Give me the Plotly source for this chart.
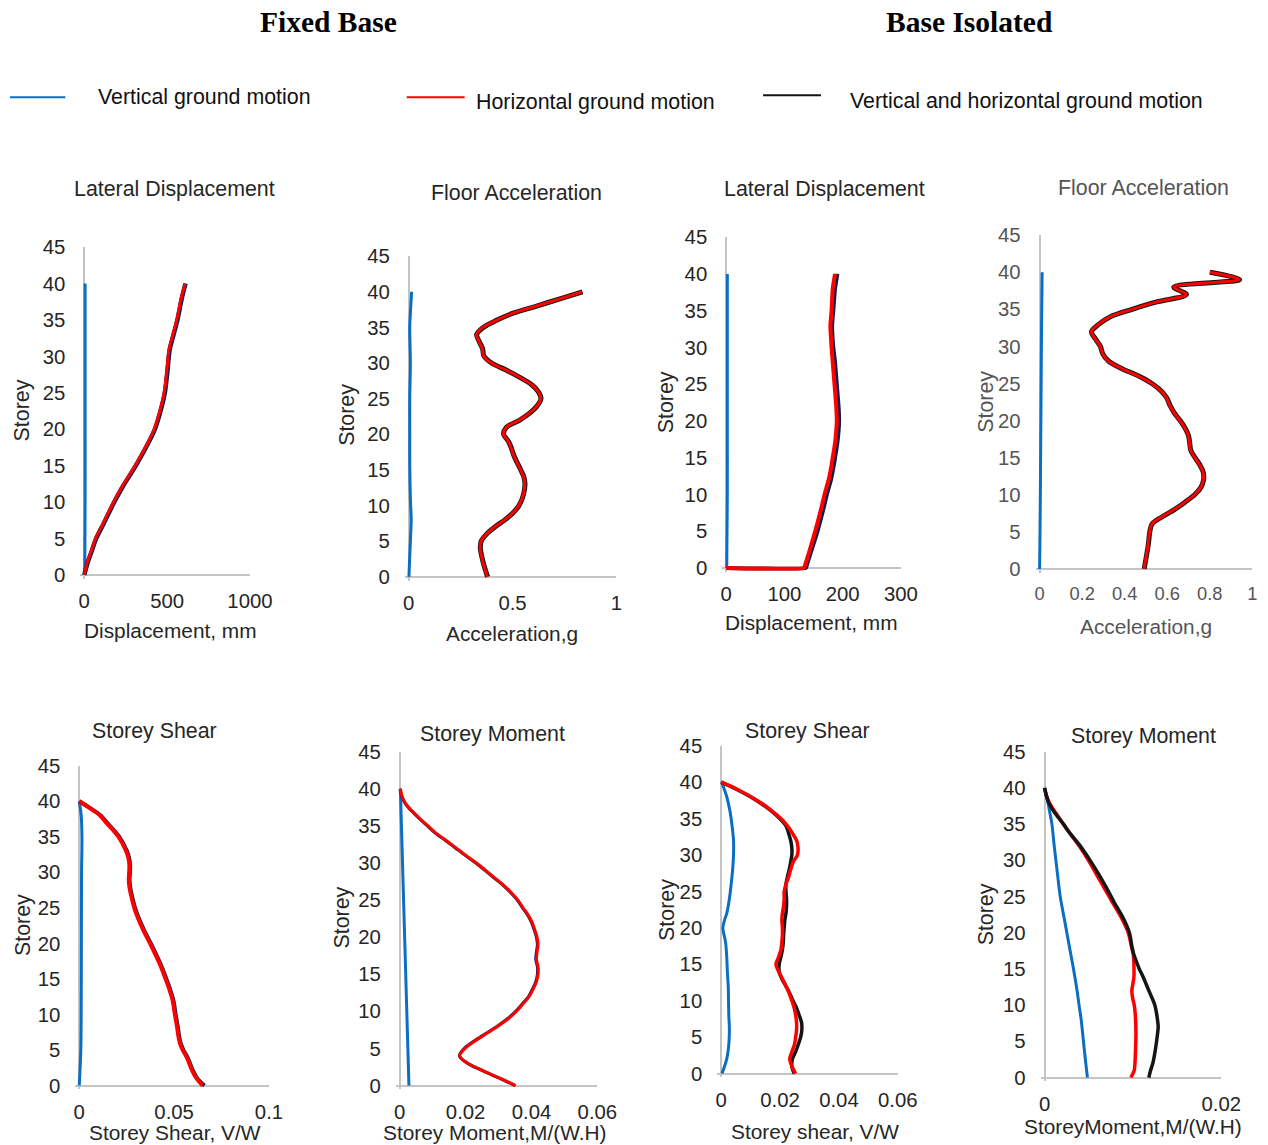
import plotly.graph_objects as go

W, H = 1268, 1145

# ======================= DATA =======================
# ---- Fixed base : lateral displacement (mm) ----
fb_disp_storey = [0, 1, 2, 3, 5, 7, 10, 12, 15, 18, 20, 23, 25, 28, 30, 31, 33, 35, 38, 40]
fb_disp_h = [0, 10, 22, 38, 68, 112, 177, 225, 307, 380, 422, 462, 482, 498, 506, 512, 535, 558, 585, 608]
fb_disp_vh = [0, 12, 25, 41, 72, 116, 181, 229, 311, 384, 426, 466, 486, 502, 510, 516, 539, 562, 589, 611]
fb_disp_v_storey = [0, 10, 20, 30, 40]
fb_disp_v = [3, 5, 5, 5, 5]

# ---- Fixed base : floor acceleration (g) ----
fb_acc_storey = [0, 1, 2, 3, 4, 5, 6, 7, 8, 9, 10, 11, 12, 13, 14, 15, 16, 17, 18, 19, 20,
                 21, 22, 23, 24, 25, 26, 27, 28, 29, 30, 31, 32, 33, 34, 35, 36, 37, 38, 39, 40]
fb_acc_h = [0.379, 0.368, 0.358, 0.350, 0.344, 0.348, 0.374, 0.414, 0.462, 0.502, 0.530, 0.546,
            0.555, 0.559, 0.554, 0.539, 0.522, 0.506, 0.494, 0.480, 0.456, 0.470, 0.534, 0.583,
            0.618, 0.636, 0.623, 0.590, 0.534, 0.470, 0.398, 0.361, 0.355, 0.339, 0.326, 0.358,
            0.422, 0.502, 0.615, 0.727, 0.836]
fb_acc_vh = [0.380, 0.369, 0.359, 0.351, 0.345, 0.349, 0.375, 0.415, 0.463, 0.503, 0.531, 0.547,
             0.556, 0.560, 0.555, 0.540, 0.523, 0.507, 0.495, 0.481, 0.457, 0.471, 0.535, 0.584,
             0.619, 0.637, 0.624, 0.591, 0.535, 0.471, 0.399, 0.362, 0.356, 0.340, 0.327, 0.359,
             0.423, 0.503, 0.616, 0.728, 0.837]
fb_acc_v_storey = [0, 5, 8, 11, 16, 20, 25, 30, 35, 37, 40]
fb_acc_v = [0.001, 0.008, 0.012, 0.008, 0.005, 0.005, 0.005, 0.008, 0.005, 0.008, 0.014]

# ---- Base isolated : lateral displacement (mm) ----
bi_disp_storey = [0, 0, 0.5, 2, 5, 8, 10, 12, 14, 15, 17, 20, 22, 25, 28, 30, 33, 35, 38, 40]
bi_disp_h = [0, 134, 136, 142, 153, 163, 169, 176, 181, 183, 187, 190, 189, 186, 183, 181, 179, 181, 183, 187]
bi_disp_vh = [0, 137, 139, 145, 157, 167, 173, 180, 185, 187, 191, 194, 193, 190, 187, 184, 182, 184, 187, 191]
bi_disp_v_storey = [0, 10, 20, 30, 40]
bi_disp_v = [1, 2, 2, 2, 2]

# ---- Base isolated : floor acceleration (g) ----
bi_acc_storey = [0, 3, 6, 7, 8, 9, 10, 11, 12, 13, 14, 15, 16, 17, 18, 19, 20, 21, 22, 23, 24,
                 25, 26, 27, 28, 29, 30, 31, 32, 33, 34, 35, 36, 37, 38, 39, 40]
bi_acc_h = [0.491, 0.509, 0.527, 0.574, 0.633, 0.683, 0.728, 0.758, 0.770, 0.769, 0.753, 0.730,
            0.710, 0.705, 0.699, 0.683, 0.660, 0.633, 0.613, 0.598, 0.571, 0.527, 0.465, 0.387,
            0.324, 0.296, 0.285, 0.262, 0.243, 0.278, 0.332, 0.434, 0.550, 0.690, 0.630, 0.940, 0.800]
bi_acc_vh = [0.492, 0.510, 0.528, 0.575, 0.634, 0.684, 0.729, 0.759, 0.771, 0.770, 0.754, 0.731,
             0.711, 0.706, 0.700, 0.684, 0.661, 0.634, 0.614, 0.599, 0.572, 0.528, 0.466, 0.388,
             0.325, 0.297, 0.286, 0.263, 0.244, 0.279, 0.333, 0.435, 0.551, 0.691, 0.631, 0.941, 0.801]
bi_acc_v_storey = [0, 5, 12, 20, 28, 35, 40]
bi_acc_v = [0.0, 0.002, 0.004, 0.006, 0.008, 0.010, 0.012]

# ---- Fixed base : storey shear (V/W) ----
fb_shear_storey = [0, 1, 2, 4, 5, 6, 7, 8, 10, 12, 14, 15, 17, 20, 22, 24, 25, 27, 28, 29, 30,
                   31, 32, 33, 35, 37, 38, 39, 40]
fb_shear_h = [0.0650, 0.0618, 0.0597, 0.0566, 0.0545, 0.0530, 0.0522, 0.0517, 0.0504, 0.0492,
              0.0469, 0.0455, 0.0426, 0.0373, 0.0335, 0.0303, 0.0290, 0.0271, 0.0264, 0.0261,
              0.0263, 0.0264, 0.0259, 0.0247, 0.0207, 0.0142, 0.0110, 0.0058, 0.0]
fb_shear_vh = [0.0660, 0.0622, 0.0601, 0.0570, 0.0549, 0.0534, 0.0526, 0.0521, 0.0508, 0.0496,
               0.0473, 0.0459, 0.0430, 0.0377, 0.0339, 0.0307, 0.0294, 0.0275, 0.0268, 0.0265,
               0.0267, 0.0268, 0.0263, 0.0251, 0.0211, 0.0146, 0.0113, 0.0060, 0.0]
fb_shear_v_storey = [0, 5, 10, 20, 30, 35, 38, 40]
fb_shear_v = [0.0, 0.0008, 0.0010, 0.0011, 0.0012, 0.0014, 0.0010, 0.0]

# ---- Fixed base : storey moment M/(W.H) ----
fb_mom_storey = [0, 1, 2, 3, 4, 5, 6, 7, 8, 9, 10, 11, 12, 13, 14, 15, 16, 17, 18, 19, 20,
                 21, 22, 23, 24, 25, 26, 27, 28, 29, 30, 31, 32, 33, 34, 35, 36, 37, 38, 39, 40]
fb_mom_h = [0.0352, 0.0304, 0.0253, 0.0207, 0.0182, 0.0198, 0.0228, 0.0263, 0.0298, 0.0329,
            0.0354, 0.0374, 0.0393, 0.0405, 0.0415, 0.0420, 0.0420, 0.0415, 0.0417, 0.0420,
            0.0417, 0.0410, 0.0402, 0.0390, 0.0374, 0.0359, 0.0339, 0.0316, 0.0288, 0.0261,
            0.0233, 0.0202, 0.0172, 0.0142, 0.0111, 0.0086, 0.0061, 0.0038, 0.0018, 0.0007, 0.0002]
fb_mom_vh = [0.0350, 0.0302, 0.0251, 0.0205, 0.0181, 0.0196, 0.0226, 0.0261, 0.0296, 0.0327,
             0.0352, 0.0372, 0.0391, 0.0403, 0.0413, 0.0418, 0.0418, 0.0413, 0.0415, 0.0418,
             0.0415, 0.0408, 0.0400, 0.0388, 0.0372, 0.0357, 0.0337, 0.0314, 0.0286, 0.0259,
             0.0231, 0.0200, 0.0170, 0.0140, 0.0109, 0.0084, 0.0059, 0.0036, 0.0017, 0.0006, 0.0001]
fb_mom_v_storey = [0, 20, 40]
fb_mom_v = [0.0028, 0.0015, 0.0002]

# ---- Base isolated : storey shear (V/W) ----
bi_shear_storey = fb_mom_storey
bi_shear_h = [0.0253, 0.0240, 0.0233, 0.0240, 0.0249, 0.0253, 0.0256, 0.0256, 0.0253, 0.0248,
              0.0240, 0.0231, 0.0220, 0.0208, 0.0195, 0.0186, 0.0195, 0.0203, 0.0206, 0.0208,
              0.0208, 0.0206, 0.0208, 0.0212, 0.0214, 0.0214, 0.0220, 0.0229, 0.0236, 0.0244,
              0.0259, 0.0261, 0.0256, 0.0242, 0.0225, 0.0203, 0.0174, 0.0141, 0.0101, 0.0056, 0.0]
bi_shear_vh = [0.0248, 0.0240, 0.0242, 0.0253, 0.0262, 0.0270, 0.0274, 0.0273, 0.0265, 0.0256,
               0.0244, 0.0233, 0.0220, 0.0206, 0.0197, 0.0197, 0.0203, 0.0208, 0.0211, 0.0212,
               0.0214, 0.0216, 0.0220, 0.0222, 0.0222, 0.0220, 0.0220, 0.0225, 0.0231, 0.0236,
               0.0240, 0.0240, 0.0236, 0.0229, 0.0220, 0.0199, 0.0172, 0.0138, 0.0099, 0.0053, 0.0]
bi_shear_v_storey = [0, 2, 4, 6, 8, 10, 12, 14, 16, 18, 20, 21, 22, 24, 26, 28, 30, 32, 34, 36, 38, 40]
bi_shear_v = [0.0003, 0.0019, 0.0026, 0.0028, 0.0026, 0.0025, 0.0024, 0.0021, 0.0019, 0.0015,
              0.0006, 0.0011, 0.0019, 0.0028, 0.0034, 0.0039, 0.0042, 0.0042, 0.0037, 0.0030,
              0.0019, 0.0002]

# ---- Base isolated : storey moment M/(W.H) ----
bi_mom_v_storey = [0, 2, 5, 8, 10, 12, 15, 18, 20, 22, 25, 28, 30, 32, 35, 37, 38, 39, 40]
bi_mom_v = [0.00485, 0.00466, 0.00440, 0.00414, 0.00390, 0.00368, 0.00327, 0.00282, 0.00252,
            0.00222, 0.00177, 0.00147, 0.00128, 0.00109, 0.00083, 0.00053, 0.00038, 0.00019, 0.0]
bi_mom_h_storey = [0, 1, 2, 4, 6, 8, 10, 11, 12, 13, 14, 15, 16, 17, 18, 20, 22, 24, 26, 28,
                   30, 32, 34, 35, 36, 37, 38, 39, 40]
bi_mom_h = [0.00977, 0.01015, 0.01023, 0.01030, 0.01034, 0.01030, 0.01015, 0.00996, 0.00988,
            0.01000, 0.01012, 0.01012, 0.01010, 0.01004, 0.00985, 0.00947, 0.00872, 0.00778,
            0.00684, 0.00590, 0.00496, 0.00391, 0.00271, 0.00214, 0.00158, 0.00102, 0.00053,
            0.00019, 0.0]
bi_mom_vh_storey = [0, 1, 2, 4, 6, 7, 8, 10, 12, 14, 15, 16, 17, 18, 20, 22, 24, 26, 28, 30,
                    32, 34, 35, 36, 37, 38, 39, 40]
bi_mom_vh = [0.01180, 0.01200, 0.01226, 0.01256, 0.01278, 0.01286, 0.01278, 0.01248, 0.01180,
             0.01112, 0.01072, 0.01040, 0.01010, 0.00990, 0.00960, 0.00891, 0.00797, 0.00710,
             0.00617, 0.00515, 0.00402, 0.00271, 0.00214, 0.00150, 0.00090, 0.00045, 0.00019, 0.0]

# ---- text / ticks ----
storey_ticks = [0, 5, 10, 15, 20, 25, 30, 35, 40, 45]
legend_names = ["Vertical ground motion", "Horizontal ground motion",
                "Vertical and horizontal ground motion"]
headers = ["Fixed Base", "Base Isolated"]

# ======================= STYLE / LAYOUT =======================
BLUE, RED, BLACK, NAVY = "#0A6EC2", "#FF0000", "#151515", "#0B1D51"
FONT = "Liberation Sans, Arial, sans-serif"
TXT = "#262626"
AXC = "#C4C4C4"
PAD = 4

# calibration of the capture (page -> picture): picture = O + S * page
OX, SX, OY, SY = 9.6, 0.982, 18.7, 0.985
FS = 1 / 0.983


def PX(r):
    return (r - OX) / SX


def PY(r):
    return (r - OY) / SY


def fx(r):
    return max(0.0, PX(r)) / W


def fy(r):
    return 1 - PY(r) / H


panels = [
    dict(title="Lateral Displacement", xt="Displacement, mm",
         v=(fb_disp_v_storey, fb_disp_v), h=(fb_disp_storey, fb_disp_h), vh=(fb_disp_storey, fb_disp_vh),
         xmax=1000, xticks=[0, 500, 1000], xlab=["0", "500", "1000"],
         px=(84, 250, 575, 247), dark=NAVY, red_top=True, vhw=4.5, hw=3,
         tpos=(174, 189), xtpos=(170, 631), ytpos=(22, 410)),
    dict(title="Floor Acceleration", xt="Acceleration,g",
         v=(fb_acc_v_storey, fb_acc_v), h=(fb_acc_storey, fb_acc_h), vh=(fb_acc_storey, fb_acc_vh),
         xmax=1, xticks=[0, 0.5, 1], xlab=["0", "0.5", "1"],
         px=(409, 617, 577, 256), dark=BLACK, red_top=True, vhw=5, hw=3,
         tpos=(517, 193), xtpos=(512, 634), ytpos=(347, 415)),
    dict(title="Lateral Displacement", xt="Displacement, mm",
         v=(bi_disp_v_storey, bi_disp_v), h=(bi_disp_storey, bi_disp_h), vh=(bi_disp_storey, bi_disp_vh),
         xmax=300, xticks=[0, 100, 200, 300], xlab=["0", "100", "200", "300"],
         px=(727, 902, 568, 237), dark=NAVY, red_top=True, vhw=4, hw=4, smooth=0.35,
         tpos=(826, 189), xtpos=(813, 623), ytpos=(667, 402)),
    dict(title="Floor Acceleration", xt="Acceleration,g",
         v=(bi_acc_v_storey, bi_acc_v), h=(bi_acc_storey, bi_acc_h), vh=(bi_acc_storey, bi_acc_vh),
         xmax=1, xticks=[0, 0.2, 0.4, 0.6, 0.8, 1], xlab=["0", "0.2", "0.4", "0.6", "0.8", "1"],
         px=(1041, 1254, 569, 235), dark=BLACK, red_top=True, vhw=5, hw=3, txt="#555555", xfs=18,
         tpos=(1145, 188), xtpos=(1148, 627), ytpos=(987, 402)),
    dict(title="Storey Shear", xt="Storey Shear, V/W",
         v=(fb_shear_v_storey, fb_shear_v), h=(fb_shear_storey, fb_shear_h), vh=(fb_shear_storey, fb_shear_vh),
         xmax=0.1, xticks=[0, 0.05, 0.1], xlab=["0", "0.05", "0.1"],
         px=(79, 269, 1086, 766), dark=NAVY, red_top=True, vhw=4, hw=4,
         tpos=(154, 731), xtpos=(175, 1133), ytpos=(22, 925)),
    dict(title="Storey Moment", xt="Storey Moment,M/(W.H)",
         v=(fb_mom_v_storey, fb_mom_v), h=(fb_mom_storey, fb_mom_h), vh=(fb_mom_storey, fb_mom_vh),
         xmax=0.06, xticks=[0, 0.02, 0.04, 0.06], xlab=["0", "0.02", "0.04", "0.06"],
         px=(400, 598, 1086, 752), dark=NAVY, red_top=True, vhw=3, hw=3,
         tpos=(493, 734), xtpos=(495, 1133), ytpos=(342, 918)),
    dict(title="Storey Shear", xt="Storey shear, V/W",
         v=(bi_shear_v_storey, bi_shear_v), h=(bi_shear_storey, bi_shear_h), vh=(bi_shear_storey, bi_shear_vh),
         xmax=0.06, xticks=[0, 0.02, 0.04, 0.06], xlab=["0", "0.02", "0.04", "0.06"],
         px=(722, 899, 1074, 746), dark=BLACK, red_top=True, vhw=3.5, hw=3.5,
         tpos=(808, 731), xtpos=(816, 1132), ytpos=(667, 910)),
    dict(title="Storey Moment", xt="StoreyMoment,M/(W.H)",
         v=(bi_mom_v_storey, bi_mom_v), h=(bi_mom_h_storey, bi_mom_h), vh=(bi_mom_vh_storey, bi_mom_vh),
         xmax=0.02, xticks=[0, 0.02], xlab=["0", "0.02"],
         px=(1046, 1223, 1078, 752), dark=BLACK, red_top=False, vhw=3.5, hw=3.5,
         tpos=(1145, 736), xtpos=(1135, 1127), ytpos=(987, 915)),
]

fig = go.Figure()
annotations = []
layout_axes = {}

for i, p in enumerate(panels, start=1):
    X0, X1, Y0, Y45 = p["px"]
    x0f, x1f, y0f, y45f = PX(X0), PX(X1), PY(Y0), PY(Y45)
    xs = "x" if i == 1 else f"x{i}"
    ys = "y" if i == 1 else f"y{i}"
    txt = p.get("txt", TXT)
    sm = p.get("smooth", 0.9)
    xmin = -PAD * p["xmax"] / (x1f - x0f)
    ymin = -PAD * 45 / (y0f - y45f)

    def add(series, color, width, name):
        st, val = series
        fig.add_trace(go.Scatter(x=val, y=st, mode="lines", name=name, xaxis=xs, yaxis=ys,
                                 line=dict(color=color, width=width, shape="spline", smoothing=sm),
                                 showlegend=False))

    add(p["v"], BLUE, 3, legend_names[0])
    if p["red_top"]:
        add(p["vh"], p["dark"], p["vhw"], legend_names[2])
        add(p["h"], RED, p["hw"], legend_names[1])
    else:
        add(p["h"], RED, p["hw"], legend_names[1])
        add(p["vh"], p["dark"], p["vhw"], legend_names[2])

    layout_axes["xaxis" if i == 1 else f"xaxis{i}"] = dict(
        domain=[(x0f - PAD) / W, x1f / W], range=[xmin, p["xmax"]], anchor=ys,
        showgrid=False, showline=False, zeroline=True, zerolinecolor=AXC, zerolinewidth=2,
        tickmode="array", tickvals=p["xticks"], ticktext=p["xlab"], ticks="",
        ticklabelstandoff=8,
        tickfont=dict(family=FONT, size=p.get("xfs", 20) * FS, color=txt), fixedrange=True)
    layout_axes["yaxis" if i == 1 else f"yaxis{i}"] = dict(
        domain=[1 - (y0f + PAD) / H, 1 - y45f / H], range=[ymin, 45], anchor=xs,
        showgrid=False, showline=False, zeroline=True, zerolinecolor=AXC, zerolinewidth=2,
        tickmode="array", tickvals=storey_ticks, ticktext=[str(t) for t in storey_ticks], ticks="",
        ticklabelstandoff=14,
        tickfont=dict(family=FONT, size=20 * FS, color=txt), fixedrange=True)

    annotations.append(dict(text=p["title"], x=fx(p["tpos"][0]), y=fy(p["tpos"][1]),
                            xref="paper", yref="paper", xanchor="center", yanchor="middle",
                            showarrow=False, font=dict(family=FONT, size=21 * FS, color=txt)))
    annotations.append(dict(text=p["xt"], x=fx(p["xtpos"][0]), y=fy(p["xtpos"][1]),
                            xref="paper", yref="paper", xanchor="center", yanchor="middle",
                            showarrow=False, font=dict(family=FONT, size=20.5 * FS, color=txt)))
    annotations.append(dict(text="Storey", x=fx(p["ytpos"][0]), y=fy(p["ytpos"][1]), textangle=-90,
                            xref="paper", yref="paper", xanchor="center", yanchor="middle",
                            showarrow=False, font=dict(family=FONT, size=21 * FS, color=txt)))

# headers
for text, cx in zip(headers, [329, 971]):
    annotations.append(dict(text=f"<b>{text}</b>", x=fx(cx), y=fy(22), xref="paper", yref="paper",
                            xanchor="center", yanchor="middle", showarrow=False,
                            font=dict(family="Liberation Serif, Times New Roman, serif", size=29 * FS,
                                      color="#000000")))

# manual legend
legend_items = [
    (legend_names[0], BLUE, (5, 65, 97), (96, 97)),
    (legend_names[1], RED, (407, 465, 97), (474, 102)),
    (legend_names[2], BLACK, (764, 822, 95), (849, 101)),
]
shapes = []
for name, col, (lx0, lx1, ly), (tx, ty) in legend_items:
    shapes.append(dict(type="line", xref="paper", yref="paper", x0=fx(lx0), x1=fx(lx1),
                       y0=fy(ly), y1=fy(ly), line=dict(color=col, width=2)))
    annotations.append(dict(text=name, x=fx(tx), y=fy(ty), xref="paper", yref="paper",
                            xanchor="left", yanchor="middle", showarrow=False,
                            font=dict(family=FONT, size=21 * FS, color="#111111")))

fig.update_layout(width=W, height=H, margin=dict(l=0, r=0, t=0, b=0),
                  paper_bgcolor="white", plot_bgcolor="white", autosize=False,
                  annotations=annotations, shapes=shapes, showlegend=False, **layout_axes)

fig.write_html("out.html")
